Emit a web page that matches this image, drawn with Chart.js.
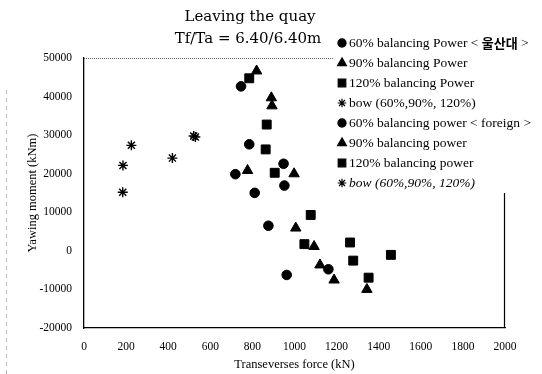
<!DOCTYPE html>
<html lang="en">
<head>
<meta charset="UTF-8">
<title>Leaving the quay</title>
<script src="https://cdn.jsdelivr.net/npm/chart.js"></script>
<style>
  body { margin: 0; background: #fff; }
  #box { width: 542px; height: 374px; }
</style>
</head>
<body>
<div id="box"><canvas id="grafico"></canvas></div>
<script>
    // legend texts (one per series)
    const legendas = [
        '60% balancing Power < 울산대 >',
        '90% balancing Power',
        '120% balancing Power',
        'bow (60%,90%, 120%)',
        '60% balancing power < foreign >',
        '90% balancing power',
        '120% balancing power',
        'bow (60%,90%, 120%)'
    ];
    const simbolos = ['circle', 'triangle', 'rect', 'star', 'circle', 'triangle', 'rect', 'star'];

    // Transverse force (kN) / yawing moment (kNm)
    const forcaCirculoU = [746, 785, 948, 811, 963];
    const momentoCirculoU = [42650, 27620, 22580, 15030, -6250];
    const forcaTrianguloU = [820, 893, 777, 1006, 1121];
    const momentoTrianguloU = [46640, 37600, 20840, 5910, -3650];
    const forcaQuadradoU = [785, 868, 906, 1077, 1264];
    const momentoQuadradoU = [44740, 32750, 20240, 9300, 2170];
    const forcaBowU = [185, 420, 521];
    const momentoBowU = [22150, 24050, 29780];

    const forcaCirculoF = [719, 952, 876, 1161];
    const momentoCirculoF = [19880, 16930, 6510, -4780];
    const forcaTrianguloF = [890, 998, 1093, 1188, 1344];
    const momentoTrianguloF = [39680, 19980, 1130, -7560, -9990];
    const forcaQuadradoF = [863, 1047, 1279, 1458, 1352];
    const momentoQuadradoF = [26300, 1740, -2530, -1040, -6950];
    const forcaBowF = [184, 225, 529];
    const momentoBowF = [15200, 27360, 29500];

    const forcas = [forcaCirculoU, forcaTrianguloU, forcaQuadradoU, forcaBowU,
        forcaCirculoF, forcaTrianguloF, forcaQuadradoF, forcaBowF];
    const momentos = [momentoCirculoU, momentoTrianguloU, momentoQuadradoU, momentoBowU,
        momentoCirculoF, momentoTrianguloF, momentoQuadradoF, momentoBowF];

    // marker size per symbol
    const raios = { circle: 4.8, triangle: 6, rect: 6.3, star: 5 };

    const serif = '"Liberation Serif", "DejaVu Serif", serif';

    let datasets = [];
    for (let i = 0; i < legendas.length; i++) {
        let pontos = [];
        for (let j = 0; j < forcas[i].length; j++) {
            pontos.push({ x: forcas[i][j], y: momentos[i][j] });
        }
        datasets.push({
            label: legendas[i],
            data: pontos,
            pointStyle: simbolos[i],
            pointRadius: raios[simbolos[i]],
            backgroundColor: '#000',
            borderColor: '#000',
            borderWidth: simbolos[i] == 'star' ? 1.4 : 1
        });
    }

    // title, frame and the legend that sits over the plot
    const extras = {
        id: 'extras',
        afterDraw(chart) {
            const ctx = chart.ctx;
            const a = chart.chartArea;
            ctx.save();

            // faint dashed scan line at the far left
            ctx.strokeStyle = '#bbb';
            ctx.lineWidth = 1;
            ctx.setLineDash([4, 4]);
            ctx.beginPath();
            ctx.moveTo(6.5, 90);
            ctx.lineTo(6.5, 374);
            ctx.stroke();

            // dotted top edge and right edge of the frame
            ctx.strokeStyle = '#666';
            ctx.setLineDash([1, 1]);
            ctx.beginPath();
            ctx.moveTo(a.left, a.top + 0.5);
            ctx.lineTo(a.right, a.top + 0.5);
            ctx.stroke();
            ctx.setLineDash([]);
            ctx.strokeStyle = '#000';
            ctx.lineWidth = 1.2;
            ctx.beginPath();
            ctx.moveTo(a.right - 0.5, a.top);
            ctx.lineTo(a.right - 0.5, a.bottom);
            ctx.stroke();

            // legend
            ctx.fillStyle = '#fff';
            ctx.fillRect(334, 30, 208, 163);
            ctx.textAlign = 'left';
            ctx.textBaseline = 'middle';
            for (let i = 0; i < chart.data.datasets.length; i++) {
                const ds = chart.data.datasets[i];
                const y = 43 + i * 20;
                ctx.fillStyle = '#000';
                ctx.strokeStyle = '#000';
                Chart.helpers.drawPoint(ctx, {
                    pointStyle: ds.pointStyle,
                    radius: ds.pointRadius * 0.85,
                    borderWidth: ds.borderWidth
                }, 342, y);
                const texto = ds.label;
                const k = texto.indexOf('울산대');
                let x = 349;
                if (k >= 0) {
                    ctx.font = '13.5px ' + serif;
                    ctx.fillText(texto.slice(0, k), x, y);
                    x += ctx.measureText(texto.slice(0, k)).width;
                    ctx.font = 'bold 13px "Noto Sans CJK KR", sans-serif';
                    ctx.fillText('울산대', x, y);
                    x += ctx.measureText('울산대').width;
                    ctx.font = '13.5px ' + serif;
                    ctx.fillText(texto.slice(k + 3), x, y);
                } else {
                    ctx.font = (ds.pointStyle == 'star' && i > 3 ? 'italic ' : '') + '13.5px ' + serif;
                    ctx.fillText(texto, x, y);
                }
            }

            // title
            ctx.fillStyle = '#000';
            ctx.textAlign = 'center';
            ctx.font = '15px "DejaVu Serif", serif';
            ctx.fillText('Leaving the quay', 250, 17);
            ctx.fillText('Tf/Ta = 6.40/6.40m', 248, 39);
            ctx.restore();
        }
    };

    const config = {
        type: 'scatter',
        data: { datasets: datasets },
        options: {
            responsive: true,
            maintainAspectRatio: false,
            animation: false,
            layout: { padding: { top: 58, right: 37, left: 0, bottom: 0 } },
            plugins: {
                legend: { display: false },
                title: { display: false },
                tooltip: { enabled: false }
            },
            scales: {
                x: {
                    min: 0,
                    max: 2000,
                    afterFit(scale) { scale.height = 46; },
                    grid: { display: false, drawTicks: false },
                    border: { display: true, color: '#000', width: 1.3 },
                    ticks: {
                        stepSize: 200, padding: 12, color: '#000',
                        font: { family: serif, size: 11.5 },
                        callback: function (v) { return String(v); }
                    },
                    title: {
                        display: true,
                        text: 'Transeverses force (kN)',
                        color: '#000',
                        font: { family: serif, size: 12.5 },
                        padding: { top: 0, bottom: 2 }
                    }
                },
                y: {
                    min: -20000,
                    max: 50000,
                    afterFit(scale) { scale.width = 84; },
                    grid: { display: false, drawTicks: false },
                    border: { display: true, color: '#000', width: 1.3 },
                    ticks: {
                        stepSize: 10000, padding: 12, color: '#000',
                        font: { family: serif, size: 11.5 },
                        callback: function (v) { return String(v); }
                    },
                    title: {
                        display: true,
                        text: 'Yawing moment (kNm)',
                        color: '#000',
                        font: { family: serif, size: 12.5 },
                        padding: { top: 25, bottom: 0 }
                    }
                }
            }
        },
        plugins: [extras]
    };

    let grafico = new Chart(document.getElementById('grafico'), config);
</script>
</body>
</html>
